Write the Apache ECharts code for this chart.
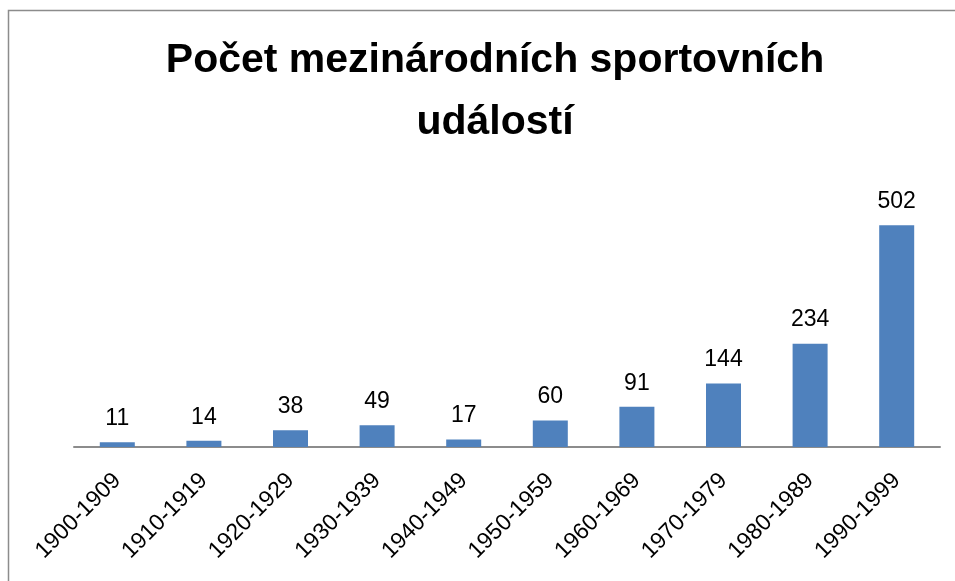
<!DOCTYPE html>
<html><head><meta charset="utf-8">
<script src="https://cdn.jsdelivr.net/npm/echarts@6/dist/echarts.min.js"></script>
<style>html,body{margin:0;padding:0;background:#fff}#c{width:955px;height:581px}</style>
</head><body><div id="c"></div>
<script>
const categories = ['1900-1909','1910-1919','1920-1929','1930-1939','1940-1949','1950-1959','1960-1969','1970-1979','1980-1989','1990-1999'];
const values = [11,14,38,49,17,60,91,144,234,502];
const titleText = 'Počet mezinárodních sportovních\nudálostí';

const chart = echarts.init(document.getElementById('c'), null, {renderer:'canvas'});
chart.setOption({
  backgroundColor:'#fff',
  animation:false,
  graphic:[{type:'rect',shape:{x:8.5,y:10.5,width:1100,height:800},style:{fill:'none',stroke:'#8c8c8c',lineWidth:1.5},silent:true}],
  title:{text:titleText,left:490,textAlign:'center',top:25,textStyle:{fontFamily:'Liberation Sans',fontWeight:'bold',fontSize:41,lineHeight:62,color:'#000'}},
  grid:{left:74,right:15,top:182,bottom:134,containLabel:false},
  xAxis:{type:'category',data:categories,
    axisLine:{lineStyle:{color:'#8c8c8c',width:2}},
    axisTick:{show:false},
    axisLabel:{rotate:45,interval:0,margin:30,fontFamily:'Liberation Sans',fontSize:23,color:'#000'}},
  yAxis:{type:'value',min:0,max:600,show:false,splitLine:{show:false}},
  series:[{type:'bar',data:values,barWidth:35,
    itemStyle:{color:'#4f81bd'},
    label:{show:true,position:'top',distance:12,fontFamily:'Liberation Sans',fontSize:23,color:'#000'}}]
});
</script></body></html>
